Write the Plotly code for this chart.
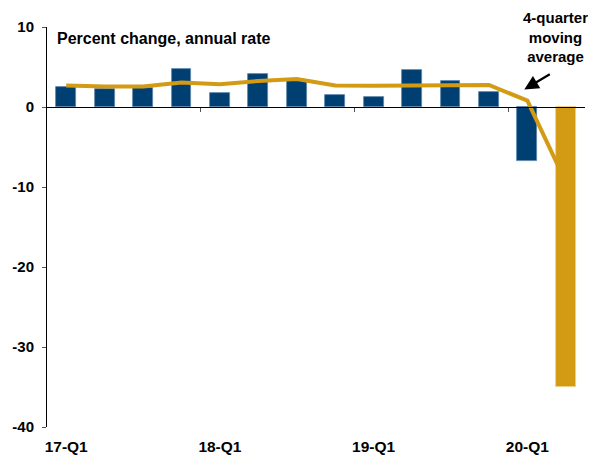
import plotly.graph_objects as go

quarters = ["17-Q1", "17-Q2", "17-Q3", "17-Q4", "18-Q1", "18-Q2", "18-Q3", "18-Q4",
            "19-Q1", "19-Q2", "19-Q3", "19-Q4", "20-Q1", "20-Q2"]
quarterly_change = [2.5, 2.3, 2.4, 4.7, 1.8, 4.1, 3.4, 1.5, 1.2, 4.6, 3.2, 1.9, -6.8, -35.0]
moving_average = [2.7, 2.55, 2.55, 3.05, 2.85, 3.25, 3.5, 2.7, 2.65, 2.7, 2.7, 2.75, 0.8, -9.4]
tick_labels = ["17-Q1", "18-Q1", "19-Q1", "20-Q1"]
y_ticks = [-40, -30, -20, -10, 0, 10]

NAVY = "#003F72"
GOLD = "#D39A14"

xpos = list(range(len(quarters)))
bar_colors = [NAVY] * (len(quarters) - 1) + [GOLD]
bar_edges = ["#5b84aa"] * (len(quarters) - 1) + ["#ecd08a"]

tick_pos = [quarters.index(t) for t in tick_labels]
boundaries = [p - 0.5 for p in tick_pos[1:]]

fig = go.Figure()
fig.add_trace(go.Bar(
    x=xpos, y=quarterly_change, width=0.52,
    marker=dict(color=bar_colors, line=dict(color=bar_edges, width=0.8)),
    showlegend=False, hoverinfo="skip",
))
fig.add_trace(go.Scatter(
    x=xpos, y=moving_average, mode="lines",
    line=dict(color=GOLD, width=4),
    showlegend=False, hoverinfo="skip",
))
# invisible trace to activate zero-line axis
fig.add_trace(go.Scatter(x=[xpos[0]], y=[0], xaxis="x2", mode="markers",
                         marker=dict(opacity=0), showlegend=False, hoverinfo="skip"))

FONT = "Liberation Sans, Arial, sans-serif"
xr = [-0.5, len(quarters) - 0.5]

fig.update_layout(
    width=596, height=455,
    margin=dict(l=39, r=19, t=19, b=36, autoexpand=False),
    paper_bgcolor="white", plot_bgcolor="white",
    font=dict(family=FONT, size=14, color="black"),
    bargap=0,
    xaxis=dict(
        range=xr, tickmode="array", tickvals=tick_pos,
        ticktext=["<b>%s</b>" % t for t in tick_labels],
        ticks="", showline=False, showgrid=False, zeroline=False,
        tickfont=dict(size=15.5, family=FONT, color="black"),
        ticklabelstandoff=8, automargin=False,
    ),
    xaxis2=dict(
        range=xr, overlaying="x", anchor="free", position=0.8,
        showline=True, linecolor="black", linewidth=1.3,
        ticks="outside", ticklen=4, tickcolor="#555", tickwidth=1,
        tickmode="array", tickvals=boundaries, showticklabels=False,
        showgrid=False, zeroline=False, automargin=False,
    ),
    yaxis=dict(
        range=[-40, 10], tickmode="array", tickvals=y_ticks,
        ticktext=["<b>%d</b>" % v for v in y_ticks],
        showline=True, linecolor="black", linewidth=1,
        ticks="outside", ticklen=4, tickcolor="#555",
        showgrid=False, zeroline=False, automargin=False,
        tickfont=dict(size=15, family=FONT, color="black"),
        ticklabelstandoff=5,
    ),
    annotations=[
        dict(text="<b>Percent change, annual rate</b>", xref="paper", yref="paper",
             x=0.014, y=0.972, xanchor="left", yanchor="middle", showarrow=False,
             font=dict(size=16, family=FONT, color="black")),
        dict(text="<b>4-quarter<br>moving<br>average</b>", xref="paper", yref="paper",
             x=0.946, y=0.974, xanchor="center", yanchor="middle", showarrow=False,
             align="center", font=dict(size=15, family=FONT, color="black")),
        dict(text="", x=11.92, y=2.2, xref="x", yref="y",
             ax=27, ay=-16, axref="pixel", ayref="pixel",
             showarrow=True, arrowhead=2, arrowsize=1.3, arrowwidth=2.2,
             arrowcolor="black"),
    ],
)

fig.write_html("out.html")
